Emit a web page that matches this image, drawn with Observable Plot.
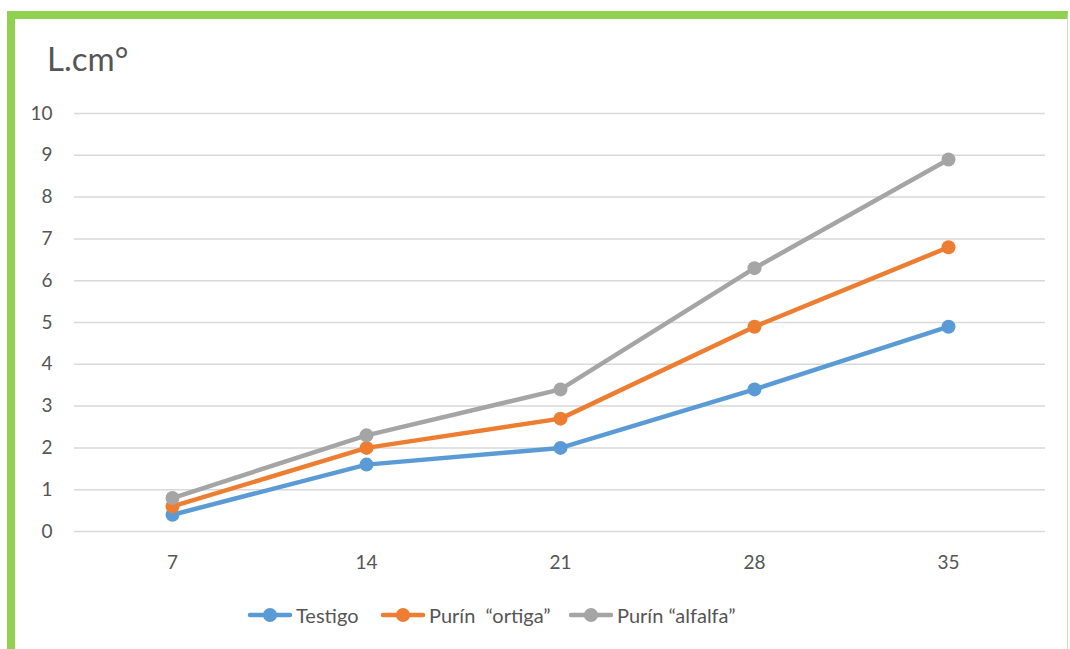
<!DOCTYPE html>
<html>
<head>
<meta charset="utf-8">
<script src="https://cdn.jsdelivr.net/npm/d3@7"></script>
<script src="https://cdn.jsdelivr.net/npm/@observablehq/plot@0.6"></script>
<style>
  html, body { margin: 0; padding: 0; background: #fff; }
  #wrap { position: relative; width: 1070px; height: 649px; overflow: hidden; font-family: Lato, "Open Sans", sans-serif; }
  #frame { position: absolute; left: 7px; top: 11px; width: 1061px; height: 700px; border-left: 8px solid #92D050; border-top: 8px solid #92D050; border-right: 1px solid #C9E6A8; box-sizing: border-box; }
  #title { position: absolute; left: 47px; top: 38px; font-size: 33px; color: #555; }
  #chart { position: absolute; left: 0; top: 0; }
  #legend { position: absolute; left: 0; top: 600px; width: 1070px; height: 30px; font-size: 20px; color: #555; }
  .item { position: absolute; top: 0; display: flex; align-items: center; height: 30px; white-space: pre; }
  .key { width: 46px; height: 30px; margin-right: 3px; }
</style>
</head>
<body>
<div id="wrap">
  <div id="frame"></div>
  <div id="chart"></div>
  <div id="title">L.cm°</div>
  <div id="legend"></div>
</div>
<script>
const days = [7, 14, 21, 28, 35];
const seriesNames = ["Testigo", "Purín  “ortiga”", "Purín “alfalfa”"];
const seriesColors = ["#5B9BD5", "#ED7D31", "#A5A5A5"];
const testigo = [0.4, 1.6, 2.0, 3.4, 4.9];
const ortiga  = [0.6, 2.0, 2.7, 4.9, 6.8];
const alfalfa = [0.8, 2.3, 3.4, 6.3, 8.9];
const yTicks = [0, 1, 2, 3, 4, 5, 6, 7, 8, 9, 10];

const valuesBySeries = [testigo, ortiga, alfalfa];
const data = [];
valuesBySeries.forEach((vals, s) => {
  vals.forEach((v, i) => data.push({series: seriesNames[s], day: days[i], value: v}));
});

const chart = Plot.plot({
  width: 1070,
  height: 596,
  marginLeft: 74,
  marginRight: 25,
  marginTop: 113,
  marginBottom: 65,
  style: {fontFamily: "Lato, 'Open Sans', sans-serif", color: "#555", background: "transparent"},
  x: {type: "point", domain: days, padding: 0.5},
  y: {domain: [0, 10]},
  color: {domain: seriesNames, range: seriesColors},
  marks: [
    Plot.gridY(yTicks, {stroke: "#D9D9D9", strokeOpacity: 1, strokeWidth: 1.5}),
    Plot.axisY(yTicks, {tickSize: 0, tickPadding: 22, fontSize: 19, label: null}),
    Plot.axisX(days, {tickSize: 0, tickPadding: 24, fontSize: 19, label: null}),
    Plot.line(data, {x: "day", y: "value", z: "series", stroke: "series", strokeWidth: 4.5, strokeLinejoin: "round", strokeLinecap: "round"}),
    Plot.dot(data, {x: "day", y: "value", fill: "series", r: 7})
  ]
});
document.getElementById("chart").appendChild(chart);

const legendX = [247, 380, 568];
const legend = document.getElementById("legend");
seriesNames.forEach((name, i) => {
  const item = document.createElement("div");
  item.className = "item";
  item.style.left = legendX[i] + "px";
  const svgNS = "http://www.w3.org/2000/svg";
  const svg = document.createElementNS(svgNS, "svg");
  svg.setAttribute("class", "key");
  svg.setAttribute("width", 46);
  svg.setAttribute("height", 30);
  const ln = document.createElementNS(svgNS, "line");
  ln.setAttribute("x1", 3); ln.setAttribute("x2", 43);
  ln.setAttribute("y1", 15); ln.setAttribute("y2", 15);
  ln.setAttribute("stroke", seriesColors[i]);
  ln.setAttribute("stroke-width", 4.5);
  ln.setAttribute("stroke-linecap", "round");
  const c = document.createElementNS(svgNS, "circle");
  c.setAttribute("cx", 23); c.setAttribute("cy", 15); c.setAttribute("r", 7);
  c.setAttribute("fill", seriesColors[i]);
  svg.appendChild(ln); svg.appendChild(c);
  const t = document.createElement("span");
  t.textContent = name;
  item.appendChild(svg);
  item.appendChild(t);
  legend.appendChild(item);
});
</script>
</body>
</html>
